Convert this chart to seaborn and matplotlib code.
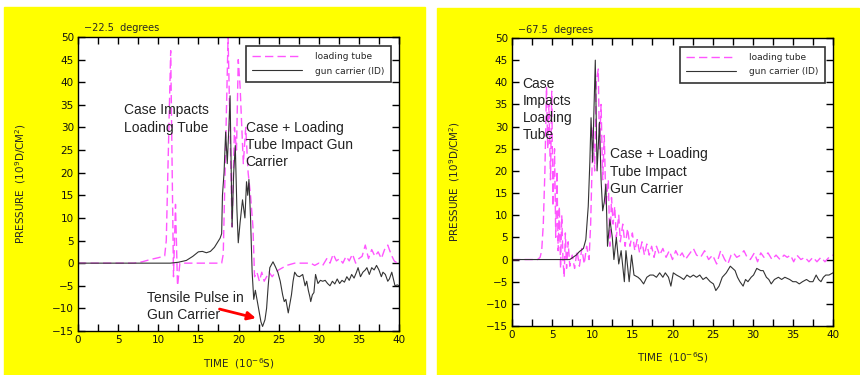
import matplotlib
matplotlib.use("Agg")
import matplotlib.pyplot as plt
import matplotlib.patches as mpatches
from matplotlib.ticker import MultipleLocator
import seaborn as sns

# -22.5 degrees panel
lt1_t = [0, 7, 8, 9, 10, 10.8, 11.0, 11.55, 11.9, 12.15, 12.4, 12.7, 13.0, 17.9, 18.1, 18.7,
         19.2, 19.5, 19.75, 19.97, 20.2, 20.6, 20.9, 21.2, 21.5, 21.8, 22.0, 22.3, 22.6, 22.9,
         23.2, 23.5, 23.8, 24.2, 24.6, 25.0, 25.5, 26.0, 27.0, 28.0, 29.0, 29.5, 30.0, 30.5,
         31.0, 31.4, 31.8, 32.2, 32.6, 33.0, 33.4, 33.8, 34.2, 34.6, 35.0, 35.4, 35.8, 36.2,
         36.6, 37.0, 37.4, 37.8, 38.2, 38.6, 39.0, 39.4, 39.8, 40.0]
lt1_p = [0, 0, 0.3, 0.8, 1.2, 1.6, 5, 47, -3, 13, -5, 0, 0, 0, 2, 50,
         8, 30, 25, 45, 39, 22, 30, 20, 15, 8, -3, -2, -4, -2,
         -4, -3, -2, -3, -2, -1.5, -1, -0.5, 0, 0, 0, -0.5, 0, -0.5,
         1, 0, 2, 0.5, 1, 0, 1.5, 0.5, 2, 0, 1, 1.5, 4, 1,
         3, 1.5, 2.5, 1, 3, 4, 2, 0.5, 0, 0]
gc1_t = [0, 11.5, 12.5, 13.5, 14.3, 15.0, 15.5, 16.0, 16.5, 17.0, 17.7, 17.9, 18.0, 18.2,
         18.4, 18.6, 18.8, 18.95, 19.2, 19.4, 19.6, 19.8, 19.97, 20.2, 20.5, 20.8, 21.0, 21.15,
         21.3, 21.5, 21.7, 21.9, 22.1, 22.4, 22.6, 22.8, 23.0, 23.3, 23.5, 23.7, 23.9, 24.3,
         24.6, 24.9, 25.2, 25.5, 25.7, 25.9, 26.0, 26.2, 26.4, 26.6, 26.8, 27.0, 27.3, 27.6,
         28.0, 28.3, 28.5, 28.7, 28.9, 29.0, 29.2, 29.4, 29.6, 29.9, 30.2, 30.5, 30.8, 31.1,
         31.4, 31.7, 32.0, 32.3, 32.6, 32.9, 33.2, 33.5, 33.8, 34.1, 34.4, 34.7, 34.9, 35.2,
         35.5, 35.8, 36.0, 36.3, 36.6, 36.9, 37.2, 37.5, 37.8, 38.0, 38.3, 38.6, 38.8, 39.1,
         39.3, 39.5, 39.8, 40.0]
gc1_p = [0, 0, 0.2, 0.6, 1.5, 2.5, 2.6, 2.3, 2.6, 3.5, 5.5, 6.5, 15, 20,
         29, 22, 30, 37, 8, 20, 26, 12, 4.5, 9, 14, 10, 18, 15,
         18.5, 10, -2, -8, -6, -9, -11, -13, -14, -12.5, -10, -5, -1, 0.3,
         -0.8, -2, -4, -7, -8.5, -8, -9, -11, -9, -7, -4, -2, -2.8, -3,
         -2.5, -5, -4, -6, -7.5, -8.5, -7, -6.5, -2.5, -4.5, -3.8, -4, -3.8, -4.5,
         -5, -4, -4.6, -3.5, -4.5, -3.8, -4.2, -3, -3.8, -2.5, -3.3, -2, -1, -3,
         -2, -1.5, -1, -2.5, -1, -1.5, -0.5, -1.5, -3, -2, -2.5, -4, -3.5, -2,
         -3.5, -5, -4.8, -5]

# -67.5 degrees panel
lt2_t = [0, 3.2, 3.5, 3.7, 3.9, 4.1, 4.3, 4.45, 4.6, 4.8, 4.95, 5.1, 5.3, 5.45, 5.6, 5.75,
         5.9, 6.05, 6.2, 6.35, 6.5, 6.65, 6.8, 7.0, 7.2, 7.5, 7.8, 8.1, 8.4, 8.7, 9.0, 9.3,
         9.6, 9.8, 10.1, 10.3, 10.5, 10.75, 10.9, 11.1, 11.3, 11.5, 11.7, 12.0, 12.2, 12.4,
         12.6, 12.8, 13.0, 13.3, 13.5, 13.8, 14.1, 14.4, 14.7, 15.0, 15.3, 15.6, 15.9, 16.2,
         16.5, 16.8, 17.1, 17.4, 17.7, 18.0, 18.4, 18.8, 19.2, 19.6, 20.0, 20.4, 20.8, 21.2,
         21.6, 22.0, 22.6, 23.0, 23.5, 24.0, 24.5, 25.0, 25.5, 26.0, 26.5, 26.9, 27.3, 27.6,
         28.0, 28.5, 28.9, 29.3, 29.7, 30.2, 30.6, 31.0, 31.4, 31.9, 32.4, 32.9, 33.4, 33.9,
         34.3, 34.7, 35.1, 35.5, 36.0, 36.5, 37.0, 37.5, 38.0, 38.5, 39.0, 39.5, 40.0]
lt2_p = [0, 0, 0.5, 2, 8, 20, 39, 25, 35, 18, 38, 12, 25, 5, 20, 2,
         12, -2, 10, 0, -4, 6, -2, 4, -1.5, 1, -2, 2, -1.5, 2.5, -1, 3,
         0, 8, 30, 20, 40, 43, 25, 35, 18, 28, 12, 18, 3, 14,
         8, 12, 5, 10, 4, 8, 3, 7, 3, 6, 2, 4.5, 1.5, 4,
         1, 3.5, 1, 3, 0.5, 3, 1, 2.5, 0.5, 2, 0, 2, 0.5, 1.5,
         0, 1, 2.5, 1, 0.5, 2, 0, 1, -1, 2, 0, -1, 1, 1.5,
         0.5, 1, 2, 0.5, 0, 1.5, -0.5, 1.5, 0.5, 1.5, 0, 1, 0, 1,
         0.5, 1, -0.5, 1, 0, 0.5, -0.5, 0.5, -0.5, 0.5, -0.5, 0.5, 1]
gc2_t = [0, 7.2, 7.6, 8.0, 8.4, 8.9, 9.2, 9.5, 9.7, 9.85, 10.05, 10.2, 10.38, 10.6, 10.9,
         11.1, 11.3, 11.5, 11.7, 11.9, 12.2, 12.5, 12.7, 13.0, 13.3, 13.6, 14.0, 14.2, 14.6,
         14.9, 15.2, 15.7, 16.0, 16.4, 16.8, 17.2, 17.6, 18.0, 18.4, 18.8, 19.1, 19.5, 19.8,
         20.1, 20.5, 21.0, 21.4, 21.8, 22.2, 22.6, 23.0, 23.4, 23.8, 24.2, 24.7, 25.1, 25.4,
         25.8, 26.2, 26.7, 27.2, 27.8, 28.1, 28.4, 28.8, 29.1, 29.4, 29.8, 30.1, 30.5, 31.0,
         31.3, 31.7, 32.0, 32.3, 32.7, 33.2, 33.6, 34.0, 34.6, 35.0, 35.4, 35.8, 36.2, 36.7,
         37.1, 37.5, 37.9, 38.2, 38.5, 38.8, 39.1, 39.5, 40.0]
gc2_p = [0, 0, 0.5, 1, 1.8, 2.5, 4.5, 12, 22, 32, 22, 33, 45, 20, 31,
         18, 11, 13, 17, 3, 9, 5, 0, 5, -1, 2, -5, 2, -5,
         1, -3.5, -4, -4.5, -5.5, -4, -3.5, -3.5, -4, -3, -4, -3, -4, -6,
         -3, -3.5, -4, -4.5, -3.5, -4, -3.5, -4, -3.5, -4.5, -4, -5, -5.5, -7,
         -6, -4, -3, -1.5, -2.5, -4, -5, -6, -4.5, -5, -4, -3.5, -2, -2.5,
         -2.5, -4, -4.5, -5.5, -4.5, -4, -4.5, -4, -4.5, -5, -5, -5.5, -5, -4.5,
         -5, -5, -3.5, -4.5, -5, -4, -3.5, -3.5, -3]

titles = ["\u221222.5  degrees", "\u221267.5  degrees"]
MAGENTA = "#ff55ff"
GRAY = "#333333"

sns.set_style("ticks", {"xtick.direction": "in", "ytick.direction": "in"})
plt.rcParams["font.family"] = ["DejaVu Sans"]

fig = plt.figure(figsize=(8.6, 3.75), dpi=100)
fig.patch.set_facecolor("white")
fig.patches.append(mpatches.Rectangle((4 / 860, 0), 421 / 860, 368 / 375,
                                      transform=fig.transFigure, color="#ffff00", zorder=-10))
fig.patches.append(mpatches.Rectangle((437 / 860, 0), 422 / 860, 367 / 375,
                                      transform=fig.transFigure, color="#ffff00", zorder=-10))

ax1 = fig.add_axes([78 / 860, 44 / 375, 321 / 860, 294 / 375])
ax2 = fig.add_axes([512 / 860, 49 / 375, 321 / 860, 288 / 375])

for ax, lt_t, lt_p, gc_t, gc_p, title in [(ax1, lt1_t, lt1_p, gc1_t, gc1_p, titles[0]),
                                          (ax2, lt2_t, lt2_p, gc2_t, gc2_p, titles[1])]:
    ax.set_facecolor("white")
    sns.lineplot(x=lt_t, y=lt_p, ax=ax, color=MAGENTA, lw=1.0, linestyle=(0, (6, 3)),
                 estimator=None, label="loading tube")
    sns.lineplot(x=gc_t, y=gc_p, ax=ax, color=GRAY, lw=0.8, estimator=None,
                 label="gun carrier (ID)")
    ax.set_xlim(0, 40)
    ax.set_ylim(-15, 50)
    ax.set_yticks(range(-15, 51, 5))
    ax.set_yticklabels([str(v).replace("-", "\u2212") for v in range(-15, 51, 5)])
    ax.xaxis.set_major_locator(MultipleLocator(5))
    ax.xaxis.set_minor_locator(MultipleLocator(2.5))
    ax.tick_params(which="both", direction="in", top=True, right=True, bottom=True,
                   left=True, length=5, width=1.0, color="black")
    ax.tick_params(which="major", labelsize=7.5, pad=3, labelcolor="#111111")
    for s in ax.spines.values():
        s.set_visible(True)
        s.set_color("black")
        s.set_linewidth(1.0)
    ax.set_xlabel("TIME  (10$^{-6}$S)", fontsize=7.5)
    ax.set_ylabel("PRESSURE  (10$^{9}$D/CM$^{2}$)", fontsize=7.5)
    ax.xaxis.set_label_coords(0.5, -0.085)
    ax.yaxis.set_label_coords(-0.155, 0.5)
    ax.text(0.02, 1.012, title, transform=ax.transAxes, fontsize=7, va="bottom")
    leg = ax.legend(loc="upper right", bbox_to_anchor=(0.975, 0.97), borderaxespad=0,
                    fontsize=6.5, handlelength=5.5, frameon=True, fancybox=False,
                    borderpad=0.7, labelspacing=0.6, handletextpad=1.5)
    leg.get_frame().set_edgecolor("black")
    leg.get_frame().set_linewidth(1.2)

txt = dict(fontsize=10, va="top", ha="left", color="#222222", family="Liberation Sans",
           linespacing=1.3)
ax1.text(5.7, 35.3, "Case Impacts\nLoading Tube", **txt)
ax1.text(20.9, 31.5, "Case + Loading\nTube Impact Gun\nCarrier", **txt)
ax1.text(8.6, -6.2, "Tensile Pulse in\nGun Carrier", **txt)
ax1.annotate("", xy=(22.5, -12.3), xytext=(17.3, -10.0),
             arrowprops=dict(arrowstyle="-|>", color="red", lw=2, mutation_scale=12))
ax2.text(1.3, 41.3, "Case\nImpacts\nLoading\nTube", **txt)
ax2.text(12.2, 25.3, "Case + Loading\nTube Impact\nGun Carrier", **txt)

fig.savefig("out.png", dpi=100, facecolor=fig.get_facecolor())
